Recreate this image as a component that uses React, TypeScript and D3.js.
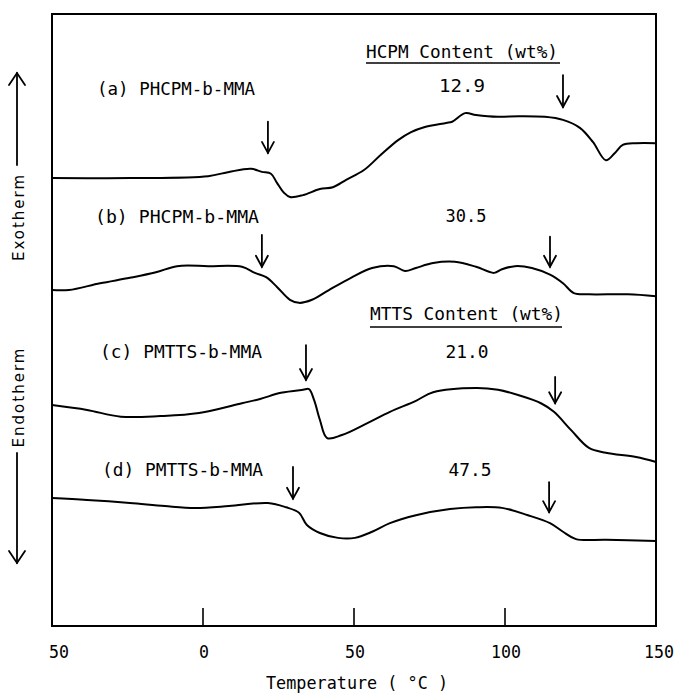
import React from "react";
import * as d3 from "d3";

// Temperature (°C) and heat-flow signal (arbitrary units, stacked traces)
const tempA = [-50, -24, 1.7, 8.6, 15.9, 19.5, 22.5, 24.5, 26.8, 28.8, 33.1, 38.7, 43, 47.4, 53.3, 58.9, 64.6, 68.9, 73.2, 80.5, 82.5, 86.8, 90.4, 97.7, 104.6, 113.2, 119.2, 124.8, 129.1, 133.4, 136.4, 139, 143.4, 150];
const sigA = [73.2, 73.2, 73.5, 74.2, 74.7, 74.2, 73.9, 72.4, 70.8, 70.1, 70.4, 71.4, 71.7, 72.9, 74.5, 77.0, 79.4, 80.7, 81.5, 82.2, 82.4, 83.8, 83.5, 83.2, 83.3, 83.2, 82.7, 81.4, 79.1, 76.1, 77.3, 78.6, 78.9, 78.9];

const tempB = [-50, -44.4, -34.1, -24.2, -15.6, -8.6, 1.7, 12.9, 17.2, 20.9, 24.5, 28.8, 31.8, 36.1, 41.7, 49.0, 56.0, 63.2, 66.9, 70.5, 76.2, 83.4, 90.4, 96.4, 99.0, 103.3, 108.9, 114.9, 119.2, 122.8, 127.8, 140.7, 150];
const sigB = [54.9, 54.9, 56.0, 56.9, 57.8, 58.8, 58.8, 58.7, 57.7, 57.0, 55.4, 53.3, 52.8, 53.3, 54.9, 56.9, 58.5, 58.8, 58.0, 58.5, 59.3, 59.5, 58.7, 57.7, 58.3, 58.8, 58.5, 57.4, 56.0, 54.4, 54.2, 54.2, 53.9];

const tempC = [-50, -38.4, -27.2, -14.2, -1.3, 12.9, 18.9, 25.8, 33.1, 35.1, 36.8, 38.7, 41.1, 46.0, 54.6, 61.9, 70.5, 76.2, 90.4, 97.7, 104.6, 111.9, 116.2, 121.9, 127.8, 133.4, 143.4, 150];
const sigC = [36.1, 35.3, 34.2, 34.3, 34.8, 36.4, 37.1, 38.1, 38.6, 38.7, 36.9, 33.7, 30.7, 31.2, 33.2, 35.0, 36.8, 38.2, 38.9, 38.6, 37.7, 36.4, 35.0, 32.0, 29.1, 28.3, 27.6, 26.8];

const tempD = [-50, -38.4, -24.2, -12.6, -2.6, 8.6, 21.5, 27.5, 31.8, 34.4, 38.7, 44.7, 50.3, 56.0, 61.9, 70.5, 81.8, 90.4, 99.0, 107.6, 114.9, 119.2, 123.5, 133.4, 150];
const sigD = [20.9, 20.6, 20.1, 19.6, 19.3, 19.6, 20.1, 19.4, 18.5, 16.5, 15.2, 14.4, 14.4, 15.4, 16.8, 18.1, 19.1, 19.4, 19.3, 18.1, 16.8, 15.4, 14.2, 14.1, 13.9];

// Transition markers (arrows): temperature, top and tip signal values
const arrowTemps = [21.5, 119.2, 19.5, 114.9, 34.1, 116.6, 29.8, 114.6];
const arrowTops = [82.4, 90.0, 63.9, 63.6, 45.9, 40.7, 26.0, 23.5];
const arrowTips = [77.3, 84.8, 58.7, 58.7, 40.2, 36.4, 20.8, 18.6];

const sampleNames = ["(a) PHCPM-b-MMA", "(b) PHCPM-b-MMA", "(c) PMTTS-b-MMA", "(d) PMTTS-b-MMA"];
const contents = ["12.9", "30.5", "21.0", "47.5"];
const contentHeaders = ["HCPM Content (wt%)", "MTTS Content (wt%)"];

const tickValues = [-50, 0, 50, 100, 150];
const tickLabels = ["50", "0", "50", "100", "150"];

const W = 679;
const H = 694;
const left = 52, right = 656, top = 14, bottom = 626;

export default function App() {
  const x = d3.scaleLinear().domain([-50, 150]).range([left, right]);
  const y = d3.scaleLinear().domain([0, 100]).range([bottom, top]);
  const line = d3
    .line<[number, number]>()
    .x((d) => x(d[0]))
    .y((d) => y(d[1]))
    .curve(d3.curveCatmullRom.alpha(0.5));

  const series = [
    d3.zip(tempA, sigA),
    d3.zip(tempB, sigB),
    d3.zip(tempC, sigC),
    d3.zip(tempD, sigD),
  ] as [number, number][][];

  const mono = "'DejaVu Sans Mono', 'Liberation Mono', monospace";
  const sans = "'DejaVu Sans', sans-serif";
  const FS = 18;

  const labelPos = [
    { x: 97, y: 95, w: 158, cx: 462, ny: 92, nw: 46 },
    { x: 95, y: 223, w: 164, cx: 466, ny: 222, nw: 41 },
    { x: 100, y: 358, w: 162, cx: 467, ny: 358, nw: 43 },
    { x: 102, y: 476, w: 161, cx: 470, ny: 476, nw: 43 },
  ];

  const arrow = (ax: number, y1: number, y2: number, hw: number, hl: number, key: string) => {
    const dir = y2 > y1 ? 1 : -1;
    return (
      <g key={key} stroke="#000" strokeWidth={1.8} fill="none" strokeLinecap="round">
        <line x1={ax} y1={y1} x2={ax} y2={y2} />
        <polyline points={`${ax - hw},${y2 - dir * hl} ${ax},${y2} ${ax + hw},${y2 - dir * hl}`} strokeLinejoin="miter" />
      </g>
    );
  };

  const tickW = (s: string) => s.length * 10;
  const tickShift = [7, 1, 1, 1, 3];

  return (
    <svg
      width={W}
      height={H}
      style={{ position: "absolute", left: 0, top: 0, background: "#fff" }}
    >
      {/* frame */}
      <rect x={left} y={top} width={right - left} height={bottom - top} fill="none" stroke="#000" strokeWidth={2} />
      {/* inward ticks */}
      {[0, 50, 100].map((t) => (
        <line key={t} x1={x(t)} x2={x(t)} y1={bottom} y2={bottom - 18} stroke="#000" strokeWidth={1.6} />
      ))}
      {tickValues.map((t, i) => (
        <text
          key={"tl" + i}
          x={x(t) + tickShift[i]}
          y={658}
          textAnchor="middle"
          fontFamily={mono}
          fontSize={FS}
          textLength={tickW(tickLabels[i])}
          lengthAdjust="spacingAndGlyphs"
          fill="#000"
        >
          {tickLabels[i]}
        </text>
      ))}
      <text
        x={357}
        y={689}
        textAnchor="middle"
        fontFamily={mono}
        fontSize={FS}
        textLength={182}
        lengthAdjust="spacingAndGlyphs"
        fill="#000"
      >
        Temperature ( °C )
      </text>

      {/* curves */}
      {series.map((s, i) => (
        <path key={"c" + i} d={line(s) || ""} fill="none" stroke="#000" strokeWidth={2} strokeLinejoin="round" />
      ))}

      {/* transition arrows */}
      {arrowTemps.map((t, i) => arrow(x(t), y(arrowTops[i]), y(arrowTips[i]), 6, 11, "a" + i))}

      {/* sample labels */}
      {sampleNames.map((s, i) => (
        <text
          key={"s" + i}
          x={labelPos[i].x}
          y={labelPos[i].y}
          fontFamily={mono}
          fontSize={FS}
          textLength={labelPos[i].w}
          lengthAdjust="spacingAndGlyphs"
          fill="#000"
        >
          {s}
        </text>
      ))}
      {contents.map((c, i) => (
        <text
          key={"n" + i}
          x={labelPos[i].cx - labelPos[i].nw / 2}
          y={labelPos[i].ny}
          fontFamily={mono}
          fontSize={FS}
          textLength={labelPos[i].nw}
          lengthAdjust="spacingAndGlyphs"
          fill="#000"
        >
          {c}
        </text>
      ))}
      <text x={366} y={58} fontFamily={mono} fontSize={FS} textLength={192} lengthAdjust="spacingAndGlyphs" fill="#000">
        {contentHeaders[0]}
      </text>
      <line x1={366} x2={560} y1={63} y2={63} stroke="#000" strokeWidth={1.6} />
      <text x={370} y={320} fontFamily={mono} fontSize={FS} textLength={193} lengthAdjust="spacingAndGlyphs" fill="#000">
        {contentHeaders[1]}
      </text>
      <line x1={370} x2={562} y1={327} y2={327} stroke="#000" strokeWidth={1.6} />

      {/* left direction labels */}
      {arrow(17, 165, 73, 8, 12, "up")}
      <text
        transform="translate(24,217) rotate(-90)"
        textAnchor="middle"
        fontFamily={sans}
        fontSize={15}
        letterSpacing={2}
        fill="#000"
      >
        Exotherm
      </text>
      <text
        transform="translate(24,397) rotate(-90)"
        textAnchor="middle"
        fontFamily={sans}
        fontSize={15}
        letterSpacing={2}
        fill="#000"
      >
        Endotherm
      </text>
      {arrow(17, 453, 563, 8, 12, "down")}
    </svg>
  );
}
